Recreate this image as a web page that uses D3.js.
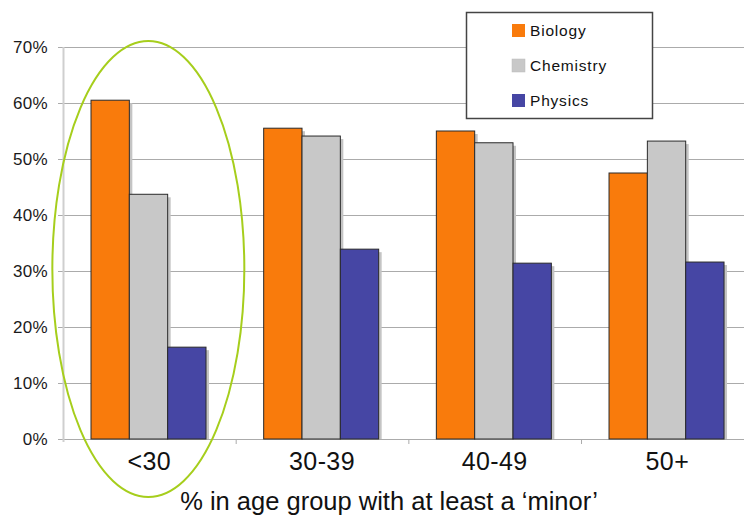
<!DOCTYPE html>
<html><head><meta charset="utf-8">
<script src="https://cdn.jsdelivr.net/npm/d3@7"></script>
<style>body{margin:0;background:#fff}svg{display:block}text{font-family:"Liberation Sans",Arial,sans-serif}</style>
</head><body><div id="chart"></div>
<script>
const categories = ["<30", "30-39", "40-49", "50+"];
const seriesNames = ["Biology", "Chemistry", "Physics"];
const biology = [0.605, 0.555, 0.55, 0.475];
const chemistry = [0.437, 0.541, 0.529, 0.532];
const physics = [0.164, 0.339, 0.314, 0.316];
const yTicks = [0, 0.1, 0.2, 0.3, 0.4, 0.5, 0.6, 0.7];
const colors = ["#F97B0C", "#C8C8C8", "#4646A4"];
const xTitle = "% in age group with at least a \u2018minor\u2019";

const W = 744, H = 518;
const svg = d3.select("#chart").append("svg").attr("width", W).attr("height", H);
const x = d3.scaleBand().domain(categories).range([63, 753.7]);
const xs = d3.scaleBand().domain(seriesNames).range([28, 143]);
const y = d3.scaleLinear().domain([0, 0.7]).range([439, 47]);
const values = [biology, chemistry, physics];

// gridlines + y labels
const yg = svg.append("g");
yg.selectAll("line").data(yTicks).join("line")
  .attr("x1", 58).attr("x2", W).attr("y1", d => y(d) + 0.5).attr("y2", d => y(d) + 0.5)
  .attr("stroke", "#ababab").attr("stroke-width", 1);
yg.selectAll("text").data(yTicks).join("text")
  .attr("x", 48).attr("y", d => y(d) + 6).attr("text-anchor", "end")
  .attr("font-size", 17).attr("letter-spacing", 0.3).attr("fill", "#1a1a1a").text(d => d3.format(".0%")(d));
// y axis line
svg.append("line").attr("x1", 63.5).attr("x2", 63.5).attr("y1", y(0.7)).attr("y2", y(0) + 3)
  .attr("stroke", "#cfcfcf").attr("stroke-width", 2);
// x ticks
svg.append("g").selectAll("line").data(categories.slice(1)).join("line")
  .attr("x1", d => x(d) + 0.5).attr("x2", d => x(d) + 0.5).attr("y1", y(0)).attr("y2", y(0) + 5)
  .attr("stroke", "#ababab");

// bars
const data = [];
categories.forEach((c, i) => seriesNames.forEach((s, j) => data.push({c, s, j, v: values[j][i]})));
const bars = svg.append("g");
bars.selectAll("rect.sh").data(data).join("rect").attr("class", "sh")
  .attr("x", d => x(d.c) + xs(d.s) + 3).attr("y", d => y(d.v) + 3)
  .attr("width", xs.bandwidth()).attr("height", d => y(0) - y(d.v) - 3)
  .attr("fill", "#c4c4c4");
bars.selectAll("rect.b").data(data).join("rect").attr("class", "b")
  .attr("x", d => x(d.c) + xs(d.s)).attr("y", d => y(d.v))
  .attr("width", xs.bandwidth()).attr("height", d => y(0) - y(d.v))
  .attr("fill", d => colors[d.j]).attr("stroke", "#2a2a2a").attr("stroke-width", 1);

// category labels
svg.append("g").selectAll("text").data(categories).join("text")
  .attr("x", d => x(d) + x.bandwidth() / 2).attr("y", 470).attr("text-anchor", "middle")
  .attr("font-size", 25).attr("letter-spacing", 0.4).attr("fill", "#111").text(d => d);
svg.append("text").attr("x", 389).attr("y", 510).attr("text-anchor", "middle")
  .attr("font-size", 25.5).attr("fill", "#111").text(xTitle);

// legend
const lg = svg.append("g");
lg.append("rect").attr("x", 466.5).attr("y", 12.5).attr("width", 186).attr("height", 106)
  .attr("fill", "#fff").attr("stroke", "#444").attr("stroke-width", 1.5);
seriesNames.forEach((s, j) => {
  const cy = 30 + j * 35;
  lg.append("rect").attr("x", 512).attr("y", cy - 6).attr("width", 13).attr("height", 13)
    .attr("fill", colors[j]).attr("stroke", colors[j] === "#C8C8C8" ? "#bbb" : "none").attr("stroke-width", 0.5);
  lg.append("text").attr("x", 530).attr("y", cy + 6).attr("font-size", 15.5).attr("letter-spacing", 0.8)
    .attr("fill", "#111").text(s);
});

// ellipse highlight
svg.append("ellipse").attr("cx", x(categories[0]) + x.bandwidth() / 2 - 1).attr("cy", 269)
  .attr("rx", 96).attr("ry", 228).attr("fill", "none").attr("stroke", "#A6CE1C").attr("stroke-width", 2);
</script></body></html>
